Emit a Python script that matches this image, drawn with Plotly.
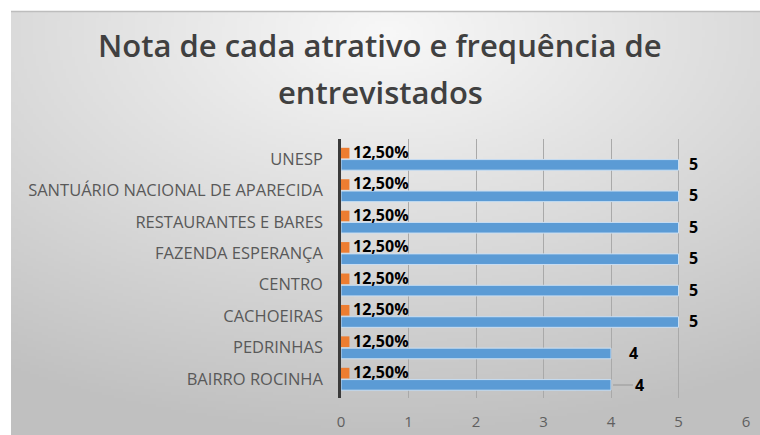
import base64
import struct
import zlib

import numpy as np
import plotly.graph_objects as go

# Attractions (bottom to top) with their scores and the share of interviewees
atrativos = [
    "BAIRRO ROCINHA",
    "PEDRINHAS",
    "CACHOEIRAS",
    "CENTRO",
    "FAZENDA ESPERANÇA",
    "RESTAURANTES E BARES",
    "SANTUÁRIO NACIONAL DE APARECIDA",
    "UNESP",
]
notas = [4, 4, 5, 5, 5, 5, 5, 5]
frequencia = [0.125, 0.125, 0.125, 0.125, 0.125, 0.125, 0.125, 0.125]
x_ticks = [0, 1, 2, 3, 4, 5, 6]

W, H = 760, 435
ML, MR, MT, MB = 341, 14, 139, 37
PW, PH = W - ML - MR, H - MT - MB


def px_x(px):
    return (px - ML) / PW


def px_y(py):
    return (H - MB - py) / PH


def gradient_png(w, h):
    """Soft radial grey gradient, light at the top centre."""
    yy, xx = np.mgrid[0:h, 0:w].astype(float)
    cx, cy = w * 0.5, h * 0.05
    d = np.sqrt(((xx - cx) / w) ** 2 + ((yy - cy) / h) ** 2)
    d = np.clip(d / 0.95, 0, 1)
    v = 248 - d * 56
    img = np.repeat(v[:, :, None], 3, axis=2).astype(np.uint8)
    raw = b"".join(b"\x00" + row.tobytes() for row in img)

    def chunk(tag, data):
        c = struct.pack(">I", len(data)) + tag + data
        return c + struct.pack(">I", zlib.crc32(tag + data) & 0xFFFFFFFF)

    png = b"\x89PNG\r\n\x1a\n"
    png += chunk(b"IHDR", struct.pack(">IIBBBBB", w, h, 8, 2, 0, 0, 0))
    png += chunk(b"IDAT", zlib.compress(raw, 9))
    png += chunk(b"IEND", b"")
    return "data:image/png;base64," + base64.b64encode(png).decode()


fig = go.Figure()

fig.add_trace(go.Bar(
    y=atrativos, x=notas, orientation="h", name="Nota",
    marker=dict(color="#5b9bd5", line=dict(color="#c9def2", width=1)),
    hoverinfo="x+y",
))
fig.add_trace(go.Bar(
    y=atrativos, x=frequencia, orientation="h", name="Frequência",
    marker=dict(color="#ed7d31", line=dict(width=0)),
    hoverinfo="x+y",
))

annotations = []
label_font = dict(family="Open Sans", size=16, color="#000000")
for i, (cat, n, f) in enumerate(zip(atrativos, notas, frequencia)):
    pct = f"{f * 100:.2f}%".replace(".", ",")
    annotations.append(dict(
        x=f, y=cat, text=f"<b>{pct}</b>", showarrow=False,
        xanchor="left", yanchor="middle", xshift=2, yshift=7,
        font=label_font,
    ))
    if i == 0:
        annotations.append(dict(
            x=n, y=cat, text=f"<b>{n}</b>", showarrow=True,
            arrowhead=0, arrowwidth=1.3, arrowcolor="#a6a6a6",
            ax=28, ay=0, yshift=-6, standoff=2,
            font=label_font,
        ))
    else:
        annotations.append(dict(
            x=n, y=cat, text=f"<b>{n}</b>", showarrow=False,
            xanchor="left", yanchor="middle",
            xshift=16 if n == 4 else 8, yshift=-5,
            font=label_font,
        ))

title_font = dict(family="Open Sans", size=31, color="#404040", weight=600)
for text, py in [("Nota de cada atrativo e frequência de", 45),
                 ("entrevistados", 92)]:
    annotations.append(dict(
        x=px_x(W / 2), y=px_y(py), xref="paper", yref="paper",
        showarrow=False, text=text, font=title_font,
        xanchor="center", yanchor="middle",
    ))

fig.update_layout(
    width=W, height=H,
    margin=dict(l=ML, r=MR, t=MT, b=MB, pad=0, autoexpand=False),
    paper_bgcolor="#ffffff",
    plot_bgcolor="rgba(0,0,0,0)",
    barmode="group",
    bargap=0.25,
    bargroupgap=0.1,
    showlegend=False,
    annotations=annotations,
    images=[dict(
        source=gradient_png(250, 142),
        xref="paper", yref="paper",
        x=px_x(11), y=px_y(11),
        sizex=px_x(W) - px_x(11), sizey=px_y(11) - px_y(H),
        xanchor="left", yanchor="top",
        sizing="stretch", layer="below",
    )],
    shapes=[dict(
        type="line", xref="paper", yref="paper",
        x0=px_x(11), x1=px_x(W), y0=px_y(11.5), y1=px_y(11.5),
        line=dict(color="#bdbdbd", width=1.5),
    )],
    font=dict(family="Open Sans"),
)

fig.update_xaxes(
    range=[0, 6], tickvals=x_ticks, automargin=False,
    showgrid=True, gridcolor="#a9a9a9", gridwidth=1,
    zeroline=False, showline=False,
    tickfont=dict(family="Open Sans", size=15, color="#5f5f5f"),
    ticks="", ticklabelstandoff=13,
)
fig.update_yaxes(
    automargin=False,
    showgrid=False, zeroline=False,
    showline=True, linecolor="#3a3a3a", linewidth=2.5,
    tickfont=dict(family="Open Sans", size=16.5, color="#595959"),
    ticks="", ticklabelstandoff=12,
)

fig.write_html("out.html")
